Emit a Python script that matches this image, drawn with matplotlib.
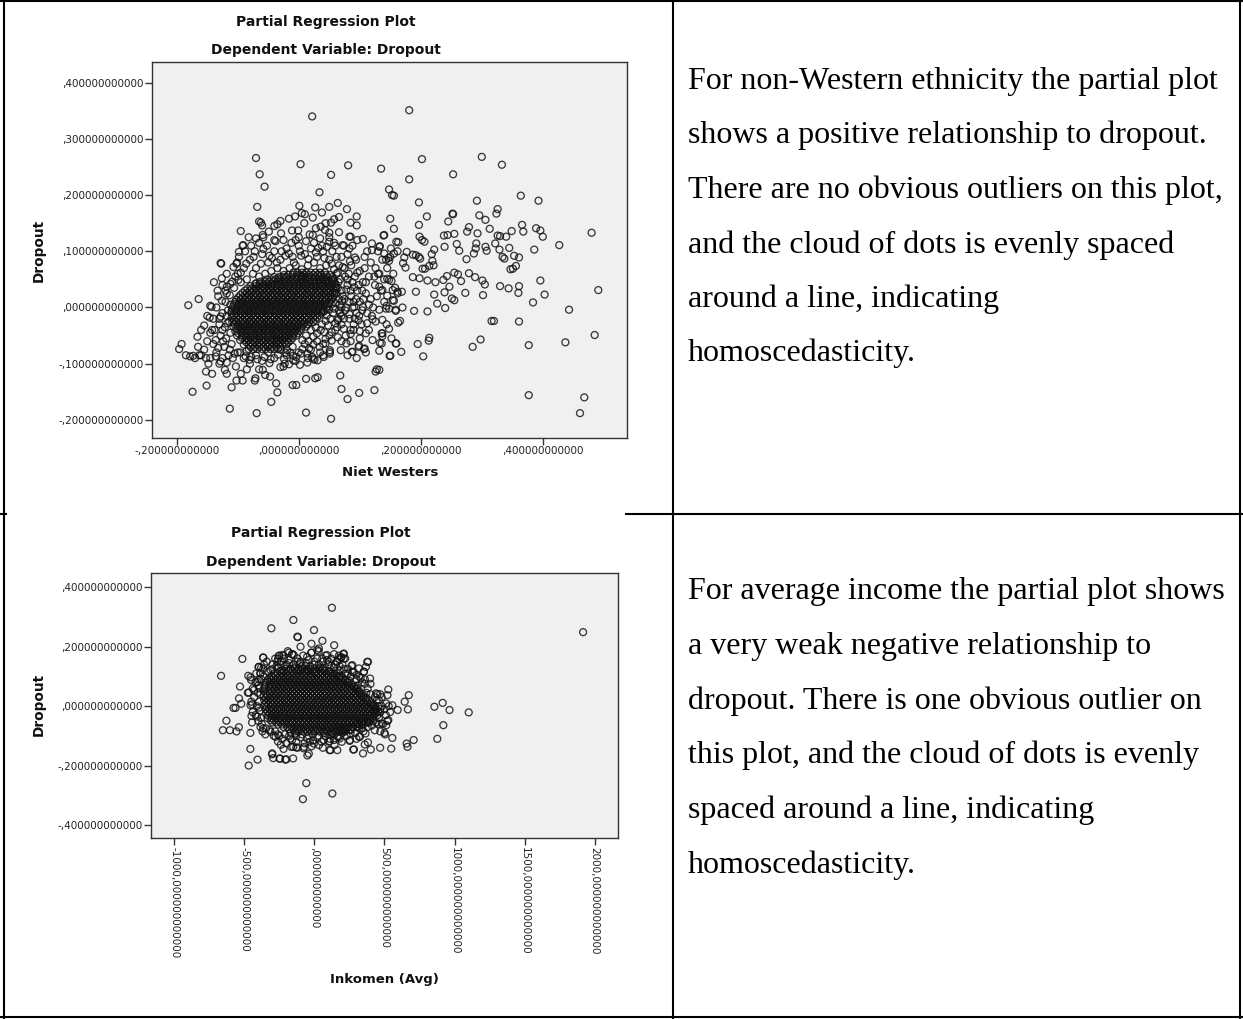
import matplotlib
matplotlib.use("Agg")
import matplotlib.pyplot as plt
from matplotlib.lines import Line2D

W, H, DPI = 1243, 1019, 100

# ---------------- DATA ----------------
# Plot 1: Niet Westers (x) vs Dropout (y), values in thousandths
nw_core_row_y = [62, 58, 54, 50, 46, 42, 38, 34, 30, 26, 22, 18, 14, 10, 6, 2, -2, -6, -10, -14,
                 -18, -22, -26, -30, -34, -38, -42, -46, -50, -54, -58, -62, -66, -70, -74]
nw_core_row_x = [
    [-9, -2, 6, 12, 20, 27, 35, 43],
    [-24, -17, -10, -3, 3, 10, 17, 24, 31, 37, 45, 51],
    [-40, -32, -25, -19, -11, -4, 4, 11, 17, 26, 33, 40, 47, 55],
    [-52, -45, -38, -31, -24, -17, -10, -3, 4, 11, 18, 25, 32, 39, 46, 53, 57],
    [-63, -55, -49, -42, -34, -28, -21, -13, -7, 1, 7, 15, 23, 29, 36, 44, 51, 58],
    [-71, -64, -57, -50, -43, -36, -29, -22, -15, -8, -1, 6, 13, 20, 27, 34, 41, 48, 55, 60],
    [-79, -71, -65, -58, -50, -44, -36, -30, -22, -16, -8, -2, 6, 12, 20, 26, 34, 40, 48, 54, 61],
    [-84, -77, -70, -63, -56, -49, -42, -35, -28, -21, -14, -7, 0, 7, 14, 21, 28, 35, 42, 49, 56, 61],
    [-88, -80, -74, -66, -60, -52, -46, -38, -32, -24, -18, -10, -4, 4, 10, 18, 24, 32, 38, 46, 52, 60],
    [-92, -85, -78, -71, -64, -57, -50, -43, -36, -29, -22, -15, -8, -1, 6, 13, 20, 27, 34, 41, 48, 55, 59],
    [-96, -88, -82, -74, -68, -60, -54, -46, -40, -33, -26, -18, -12, -4, 2, 10, 16, 24, 30, 38, 44, 52, 58],
    [-99, -92, -85, -78, -71, -64, -57, -50, -43, -36, -29, -22, -15, -8, -1, 7, 14, 21, 28, 35, 42, 49, 56],
    [-102, -95, -87, -81, -73, -67, -59, -53, -45, -39, -31, -25, -17, -11, -3, 3, 11, 17, 25, 31, 39, 45, 53],
    [-104, -97, -90, -83, -76, -69, -62, -55, -48, -41, -34, -27, -20, -13, -6, 1, 8, 15, 22, 29, 36, 44, 51],
    [-106, -98, -92, -84, -78, -70, -64, -56, -50, -42, -36, -28, -22, -14, -8, 0, 6, 14, 20, 28, 34, 42, 48],
    [-107, -100, -93, -86, -79, -72, -65, -58, -51, -44, -37, -30, -23, -16, -9, -2, 5, 12, 19, 26, 33, 40, 47],
    [-109, -102, -94, -88, -80, -74, -66, -60, -52, -46, -38, -32, -24, -18, -10, -4, 4, 10, 18, 24, 32, 38, 45],
    [-110, -103, -96, -89, -82, -75, -68, -61, -54, -47, -40, -33, -26, -19, -12, -5, 2, 9, 16, 23, 30, 37, 42],
    [-110, -103, -95, -89, -81, -75, -67, -61, -53, -47, -39, -33, -25, -19, -11, -5, 3, 9, 17, 23, 31, 37],
    [-106, -99, -92, -85, -78, -71, -64, -57, -50, -43, -36, -29, -22, -15, -8, -1, 6, 13, 20, 27, 34],
    [-110, -102, -96, -88, -82, -74, -68, -60, -54, -46, -40, -32, -26, -18, -12, -4, 2, 10, 16, 24, 30],
    [-106, -99, -92, -85, -78, -71, -64, -57, -50, -43, -36, -29, -22, -15, -8, -1, 6, 13, 20, 27],
    [-109, -103, -95, -89, -81, -75, -67, -61, -53, -47, -39, -33, -25, -19, -11, -5, 3, 9, 17, 24],
    [-105, -98, -91, -84, -77, -70, -63, -56, -49, -42, -35, -28, -21, -14, -7, 0, 8, 15],
    [-107, -100, -93, -86, -79, -72, -65, -58, -51, -44, -37, -30, -23, -16, -9, -2, 5, 12],
    [-101, -94, -87, -80, -73, -66, -59, -52, -45, -38, -31, -24, -17, -10, -3, 4],
    [-104, -96, -90, -82, -76, -68, -62, -54, -48, -40, -34, -26, -20, -12, -6, 1],
    [-99, -92, -85, -78, -71, -64, -57, -50, -43, -36, -29, -22, -15, -8, -2],
    [-101, -93, -87, -79, -73, -65, -59, -51, -45, -37, -31, -23, -17, -10, -4],
    [-93, -86, -79, -72, -65, -58, -51, -44, -37, -30, -23, -16, -10],
    [-96, -88, -82, -74, -68, -60, -54, -46, -40, -32, -26, -19, -13],
    [-86, -79, -72, -65, -58, -51, -44, -37, -30, -23, -17],
    [-90, -82, -76, -68, -62, -54, -48, -40, -34, -27, -21],
    [-79, -72, -65, -58, -51, -44, -37, -30],
    [-82, -74, -68, -60, -54, -46, -40, -34],
]
nw_outer = [
    (181, 351), (22, 340), (-70, 266), (3, 255), (81, 253), (135, 247), (202, 264), (300, 268), (333, 254),
    (-64, 237), (53, 236), (253, 237), (181, 228), (-56, 215), (34, 205), (148, 210), (153, 200), (156, 199),
    (364, 199), (292, 190), (393, 190), (197, 187), (-68, 179), (1, 181), (27, 178), (50, 179), (64, 186),
    (79, 175), (38, 169), (5, 168), (10, 166), (23, 160), (-65, 153), (-62, 151), (-95, 136), (-49, 135),
    (-40, 145), (-35, 148), (-30, 154), (-16, 158), (-6, 162), (9, 150), (-11, 137), (-1, 137), (28, 141),
    (36, 144), (44, 150), (53, 151), (58, 157), (66, 161), (85, 151), (95, 162), (95, 146), (105, 122),
    (66, 134), (50, 133), (83, 126), (-29, 132), (-59, 129), (-70, 123), (-60, 146),
    (253, 166), (326, 175), (324, 167), (296, 164), (306, 156), (210, 162), (150, 158), (245, 153), (252, 167),
    (197, 147), (156, 140), (139, 128), (198, 126), (202, 120), (206, 117), (132, 108), (151, 105), (163, 116),
    (279, 143), (276, 135), (293, 132), (313, 140), (326, 128), (330, 127), (340, 126), (349, 136), (366, 147),
    (368, 135), (389, 141), (396, 137), (400, 126), (480, 133), (427, 111), (386, 103), (238, 128), (244, 129),
    (255, 131), (239, 108), (259, 113), (263, 101), (291, 114), (290, 105), (287, 96), (306, 108), (308, 101),
    (322, 114), (329, 103), (334, 90), (337, 87), (345, 106), (353, 92), (356, 74), (361, 89), (347, 68),
    (351, 69), (275, 86), (222, 103), (218, 95), (219, 83), (221, 75), (214, 74), (207, 69), (203, 69),
    (177, 99), (187, 94), (192, 93), (197, 90), (199, 87), (173, 89), (171, 79), (175, 71), (140, 96),
    (143, 85), (147, 88), (156, 96), (162, 100),
    (132, 60), (145, 51), (152, 47), (187, 54), (198, 52), (211, 48), (224, 45), (237, 49), (243, 56),
    (255, 62), (261, 59), (266, 47), (279, 61), (289, 54), (301, 48), (305, 41), (330, 38), (344, 34),
    (361, 38), (360, 26), (396, 48), (403, 23), (384, 9), (443, -4), (491, 31),
    (192, 28), (222, 23), (227, 7), (240, -1), (239, 27), (247, 37), (251, 16), (255, 13), (273, 26),
    (302, 22), (211, -7), (189, -6), (170, 0), (159, -6), (148, -2), (156, 12), (162, 28), (169, 28),
    (154, 31), (145, 21), (137, 31), (132, 37), (143, -2), (137, -22), (144, -30), (163, -27), (166, -24),
    (137, -46), (136, -64), (152, -55), (160, -64), (150, -86), (168, -79), (195, -65), (204, -87), (213, -59),
    (214, -54), (132, -111), (316, -24), (320, -24), (361, -25), (285, -70), (298, -57), (377, -67), (437, -62),
    (485, -49), (377, -156), (468, -160), (461, -188),
]
nw_fringe = [
    (-181, 4), (-164, 15), (-145, 3), (-143, 1), (-196, -74), (-192, -65), (-174, -150), (-151, -139),
    (-152, -114), (-142, -118), (-173, -86), (-163, -85), (-152, -90), (-136, -87), (-128, -96), (-121, -111),
    (-118, -118), (-110, -142), (-102, -130), (-95, -118), (-92, -130), (-113, -180), (-69, -188), (-45, -168),
    (-35, -151), (-37, -135), (-47, -123), (-72, -130), (-71, -126), (-59, -111), (-10, -138), (-4, -138),
    (12, -127), (27, -126), (31, -124), (12, -187), (53, -198), (68, -121), (70, -145), (80, -163), (99, -152),
    (124, -147), (128, -110), (126, -114), (149, -86), (132, -77), (107, -74), (99, -68), (87, -79), (69, -76),
    (51, -79), (40, -85), (26, -93), (22, -88), (14, -98), (2, -102), (-9, -86), (-16, -101), (-21, -81),
    (-48, -99), (-81, -93), (-87, -87), (-103, -105),
    (133, -63), (137, -51), (121, -58), (136, -46), (85, -40), (110, -46), (148, -38), (159, -64), (159, -4),
    (162, 25), (154, 13), (144, 3), (132, -4), (121, -21), (105, 1), (83, -12), (148, 49), (148, 83),
    (140, 129), (160, 117), (133, 109), (120, 114), (85, 126), (72, 111), (50, 117), (35, 123),
    (23, 129), (43, 138), (-5, 120), (-40, 120), (-91, 111), (-98, 99), (-128, 79),
    (-101, 80), (-139, 45), (-126, 52), (-133, 30), (-118, 37), (-109, 46), (-99, 49), (-146, -18), (-155, -32),
    (-166, -52), (-142, -40), (-136, -58), (-125, -40), (-128, -16), (-117, -28),
    (71, 12), (91, 1), (98, -23), (85, -47), (78, -64), (88, -79), (108, -73), (98, -70), (64, -53), (74, -38),
    (64, -23), (54, -59), (44, -64), (51, -76), (51, -82), (41, -88), (31, -94), (24, -91), (17, -73), (4, -82),
    (-9, -94), (-23, -100), (-30, -106), (-19, -76), (-36, -59),
    (91, 36), (-127, 78), (-102, 78), (-92, 110), (92, 89), (120, 102),
]
nw_mid = [
    (-90, 70), (-80, 85), (-70, 70), (-60, 95), (-50, 80), (-40, 100), (-30, 85), (-20, 105), (-10, 90),
    (0, 110), (10, 95), (20, 105), (30, 90), (40, 100), (50, 85), (55, 100), (45, 75), (35, 70), (25, 80),
    (15, 75), (5, 68), (-5, 75), (-15, 70), (-25, 65), (-35, 70), (-45, 65), (-55, 60), (-65, 55), (-75, 60),
    (-85, 50), (-95, 45), (-100, 60), (-88, 100), (-78, 110), (-65, 115), (-52, 110), (-38, 118), (-25, 120),
    (-12, 115), (0, 125), (12, 118), (25, 115), (38, 110), (50, 125), (58, 115), (-82, 125), (-58, 125),
    (18, 130), (-44, 88), (-34, 52), (6, 55), (62, 60), (-70, 43), (-106, 35), (-113, 22), (-118, 60),
    (-107, 72), (-98, 90),
    (-120, 10), (-125, -10), (-130, -30), (-128, -50), (-122, -70), (-115, -85), (-118, 25), (-135, 0),
    (-140, -20), (-145, -45), (-140, -65), (-135, -80), (-150, -60), (-155, -75), (-160, -85), (-165, -70),
    (-170, -90), (-178, -87), (-185, -85), (-148, -100), (-130, -100), (-118, -98), (-108, -90), (-100, -80),
    (-110, -65), (-112, -45), (-114, -25), (-116, -5), (-125, 40), (-132, 20), (-150, -15), (-160, -40),
    (-145, -90), (-125, -90), (-90, -90), (-80, -100), (-70, -85), (-60, -95), (-50, -80), (-40, -90),
    (-30, -75), (-20, -85), (-10, -70), (0, -80), (10, -65), (20, -75), (30, -60), (40, -65), (50, -50),
    (60, -40), (65, -20), (70, 0), (-85, -110), (-65, -110), (-55, -120), (-25, -105), (-5, -95), (15, -90),
    (35, -80),
    (70, 90), (75, 70), (80, 50), (85, 30), (90, 10), (95, -10), (72, 20), (78, 0), (83, -20), (88, 110),
    (94, 85), (100, 65), (105, 45), (110, 25), (115, 5), (120, -15), (125, 40), (130, 60), (118, 80),
    (112, 100), (106, 15), (98, 40), (92, 55), (86, 75), (80, 95), (74, 110), (68, 50), (66, 75), (64, 35),
    (103, -30), (90, -40), (77, -50), (70, -30), (67, 5), (108, 90), (126, 70), (135, 30), (140, 50),
    (145, 70), (150, 90), (128, 20), (122, 0), (140, 10), (155, 60), (158, 35), (115, 55), (96, 120),
    (83, 105), (130, 100), (137, 85), (62, 90), (60, 110), (58, 68), (70, -60), (85, -60), (100, -55),
    (115, -40), (95, -90), (110, -80), (80, -85),
    (65, 45), (70, 30), (75, 15), (68, -10), (74, -20), (80, 40), (86, 20), (88, 0), (92, -20), (82, 60),
    (96, 30), (100, 10), (104, -5), (76, 55),
    (-95, 62), (-86, 78), (-74, 90), (-62, 78), (-48, 92), (-36, 80), (-22, 92), (-8, 80), (4, 92), (16, 86),
    (28, 98), (42, 88), (54, 78), (-58, 104), (-28, 100), (2, 100), (32, 106), (-72, 100), (46, 108),
    (-16, 96),
    (62, 25), (66, 15), (70, -15), (63, -35), (76, -5), (82, 10), (88, 45), (94, 15), (99, -15), (104, 30),
    (110, 45), (112, -10), (118, 15), (124, 55), (108, 70), (96, 62), (84, 82), (72, 72), (64, 62), (66, -5),
    (78, 32), (90, -30), (100, -42), (112, -28), (126, -25),
    (-112, 5), (-118, -15), (-121, -35), (-119, -55), (-113, -75), (-105, -82), (-96, -80), (-86, -78),
    (-78, -88), (-68, -92), (-56, -88), (-46, -92), (-34, -84), (-24, -92), (-14, -80), (-4, -88), (6, -74),
    (14, -82), (24, -66), (34, -70), (44, -56), (54, -44), (60, -28), (-124, -60), (-132, -72), (-138, -40),
    (-130, -20), (-126, 12), (-120, 30), (-112, 42), (-104, 55),
    (40, -8), (46, -14), (50, -4), (52, -20), (56, -10), (44, -24), (38, -30), (48, -32), (58, -2), (54, 6),
    (60, 8), (36, -40), (42, -44), (30, -46), (24, -52), (20, -40), (28, -36), (12, -50), (6, -58), (16, -60),
]

# Plot 2: Inkomen (Avg) (x, raw) vs Dropout (y, thousandths)
inc_core_row_y = [125, 118, 110, 102, 95, 88, 80, 72, 65, 58, 50, 42, 35, 28, 20, 12, 5, -2, -10, -18,
                  -25, -32, -40, -48, -55, -62, -70, -78, -85]
inc_core_row_x = [
    [-201, -172, -140, -113, -84, -53, -26, 5, 33, 60],
    [-245, -216, -186, -158, -128, -100, -70, -42, -12, 16, 46, 74, 104, 110],
    [-289, -262, -231, -204, -173, -146, -115, -88, -57, -30, 1, 28, 59, 86, 117, 144, 162],
    [-305, -277, -247, -219, -189, -161, -131, -103, -73, -45, -15, 13, 43, 71, 101, 129, 159, 180],
    [-321, -292, -264, -233, -206, -175, -148, -117, -90, -59, -32, -1, 26, 57, 84, 115, 142, 173, 200],
    [-333, -305, -275, -247, -217, -189, -159, -131, -101, -73, -43, -15, 15, 43, 73, 101, 131, 159, 189, 217, 222],
    [-344, -317, -286, -259, -228, -201, -170, -143, -112, -85, -54, -27, 4, 31, 62, 89, 120, 147, 178, 205, 236, 243],
    [-350, -312, -284, -254, -226, -196, -168, -138, -110, -80, -52, -22, 6, 36, 64, 94, 122, 152, 180, 210, 238, 268],
    [-356, -327, -299, -268, -241, -210, -183, -152, -125, -94, -67, -36, -9, 22, 49, 80, 107, 138, 165, 196, 223, 254, 281, 292],
    [-358, -316, -288, -258, -230, -200, -172, -142, -114, -84, -56, -26, 2, 32, 60, 90, 118, 148, 176, 206, 234, 264, 292, 306],
    [-360, -331, -304, -273, -246, -215, -188, -157, -130, -99, -72, -41, -14, 17, 44, 75, 102, 133, 160, 191, 218, 249, 276, 307, 320],
    [-346, -318, -288, -260, -230, -202, -172, -144, -114, -86, -56, -28, 2, 30, 60, 88, 118, 146, 176, 204, 234, 262, 292, 320, 335],
    [-361, -334, -303, -276, -245, -218, -187, -160, -129, -102, -71, -44, -13, 14, 45, 72, 103, 130, 161, 188, 219, 246, 277, 304, 335, 350],
    [-346, -316, -288, -258, -230, -200, -172, -142, -114, -84, -56, -26, 2, 32, 60, 90, 118, 148, 176, 206, 234, 264, 292, 322, 350, 370],
    [-359, -330, -302, -271, -244, -213, -186, -155, -128, -97, -70, -39, -12, 19, 46, 77, 104, 135, 162, 193, 220, 251, 278, 309, 336, 367, 389],
    [-344, -316, -286, -258, -228, -200, -170, -142, -112, -84, -54, -26, 4, 32, 62, 90, 120, 148, 178, 206, 236, 264, 294, 322, 352, 380, 405],
    [-355, -328, -297, -270, -239, -212, -181, -154, -123, -96, -65, -38, -7, 20, 51, 78, 109, 136, 167, 194, 225, 252, 283, 310, 341, 368, 399, 419],
    [-340, -308, -280, -250, -222, -192, -164, -134, -106, -76, -48, -18, 10, 40, 68, 98, 126, 156, 184, 214, 242, 272, 300, 330, 358, 388, 416, 430],
    [-350, -321, -293, -262, -235, -204, -177, -146, -119, -88, -61, -30, -3, 28, 55, 86, 113, 144, 171, 202, 229, 260, 287, 318, 345, 376, 403, 434, 441],
    [-334, -306, -276, -248, -218, -190, -160, -132, -102, -74, -44, -16, 14, 42, 72, 100, 130, 158, 188, 216, 246, 274, 304, 332, 362, 390, 420, 440],
    [-345, -318, -287, -260, -229, -202, -171, -144, -113, -86, -55, -28, 3, 30, 61, 88, 119, 146, 177, 204, 235, 262, 293, 320, 351, 378, 409, 436],
    [-330, -300, -272, -242, -214, -184, -156, -126, -98, -68, -40, -10, 18, 48, 76, 106, 134, 164, 192, 222, 250, 280, 308, 338, 366, 396, 424],
    [-335, -306, -278, -247, -220, -189, -162, -131, -104, -73, -46, -15, 12, 43, 70, 101, 128, 159, 186, 217, 244, 275, 302, 333, 360, 391, 418],
    [-312, -288, -258, -230, -200, -172, -142, -114, -84, -56, -26, 2, 32, 60, 90, 118, 148, 176, 206, 234, 264, 292, 322, 350, 380, 400],
    [-300, -273, -242, -215, -184, -157, -126, -99, -68, -41, -10, 17, 48, 75, 106, 133, 164, 191, 222, 249, 280, 307, 338, 365, 380],
    [-258, -230, -200, -172, -142, -114, -84, -56, -26, 2, 32, 60, 90, 118, 148, 176, 206, 234, 264, 292, 322, 340],
    [-221, -192, -164, -133, -106, -75, -48, -17, 10, 41, 68, 99, 126, 157, 184, 215, 242, 273, 300],
    [-178, -150, -120, -92, -62, -34, -4, 24, 54, 82, 112, 140, 170, 198, 228, 258],
    [-140, -113, -82, -55, -24, 3, 34, 61, 92, 119, 150, 177, 208, 221],
]
inc_outer = [
    (125, 331), (1917, 249), (-150, 290), (-307, 262), (-3, 256), (-121, 234), (-119, 232), (57, 220),
    (-99, 200), (-21, 210), (32, 194), (141, 205), (-514, 159), (-366, 164), (-666, 102), (-472, 102),
    (-452, 88), (-399, 132), (-386, 111), (-531, 66), (-538, 26), (-522, 8), (-577, -6), (-563, -6),
    (-475, 45), (-456, 3), (-449, -33), (-628, -49), (-653, -81), (-603, -81), (-556, -85), (-539, -71),
    (-457, -90), (-457, -144), (-406, -180), (-469, -200), (-302, -162), (-294, -175), (-248, -177),
    (-208, -180), (-200, -179), (-152, -176), (-220, -144), (-260, -119), (-165, -137), (-130, -139),
    (-78, -142), (-50, -166), (-40, -160), (-58, -259), (-82, -313), (128, -294), (108, -148), (163, -148),
    (143, -131), (108, -118), (180, -109), (253, -114), (282, -146), (318, -103), (347, -159), (359, -129),
    (382, -122), (402, -146), (431, -81), (469, -140), (504, -95), (548, -143), (556, -107), (513, -64),
    (527, -47), (521, 37), (527, 56), (513, 9), (556, 3), (594, -13), (644, 15), (673, 37), (667, -11),
    (658, -126), (664, -137), (708, -114), (856, -2), (915, 11), (964, -13), (1101, -21), (920, -64),
    (877, -110), (382, 149), (367, 132), (353, 116), (397, 93), (265, 135), (207, 175), (178, 157),
    (220, 160), (190, 165), (90, 172), (-230, 172), (-259, 160), (-157, 175), (440, 43), (469, 40),
    (455, -20), (480, -58), (430, -10), (-33, -120), (-4, -126), (32, -131), (67, -114), (103, -120),
    (139, -114), (115, -148), (258, -92), (251, -117), (277, -146), (325, -103), (365, -92), (341, -75),
    (305, -70), (127, -92), (163, -101), (210, -81), (175, -70), (-313, -86), (-277, -103), (-170, -109),
    (-134, -92), (-75, -137), (-301, -159), (-246, -176), (-151, -137),
    (-254, 169), (-218, 160), (-182, 180), (-147, 172), (-99, 149), (-52, 166), (-23, 180), (20, 189),
    (56, 160), (103, 149), (162, 149), (210, 177), (191, 163), (-396, 132), (-385, 110), (-365, 163),
    (-456, 97), (-468, 46), (-444, 6), (-408, 82), (-432, 54), (-313, 121), (-266, 149), (270, 138),
    (317, 127), (353, 116), (377, 149),
]
inc_mid = [
    (-440, 60), (-420, 80), (-430, 30), (-410, 0), (-420, -30), (-400, -50), (-415, 110), (-395, 90),
    (-405, 45), (-395, 15), (-390, -15), (-385, -70), (-370, -85), (-360, 100), (-365, 125), (-380, 130),
    (-350, -95), (-440, -20), (-450, 15), (-445, -55), (-360, 140), (-340, 150), (-330, 115), (-345, -75),
    (-300, 140), (-280, 160), (-260, 130), (-240, 150), (-220, 170), (-200, 140), (-180, 155), (-160, 175),
    (-140, 130), (-120, 160), (-100, 145), (-80, 170), (-60, 135), (-40, 155), (-20, 180), (0, 140),
    (20, 160), (40, 130), (60, 150), (80, 170), (100, 140), (120, 160), (140, 130), (160, 150), (180, 120),
    (200, 140), (220, 110), (240, 125), (260, 100), (280, 115), (300, 90), (320, 100), (340, 80), (360, 90),
    (380, 60), (400, 75), (-230, 120), (-170, 125), (-110, 120), (-50, 120), (10, 115), (70, 120), (130, 110),
    (190, 100), (250, 85), (310, 70), (370, 45), (140, 175), (175, 170), (210, 160), (-250, 170), (-190, 185),
    (30, 185),
    (-290, -100), (-260, -95), (-230, -110), (-200, -125), (-180, -100), (-160, -115), (-130, -120),
    (-100, -105), (-70, -125), (-40, -100), (-10, -115), (20, -105), (50, -120), (80, -100), (110, -110),
    (140, -95), (170, -105), (200, -90), (230, -100), (260, -80), (290, -90), (320, -75), (350, -85),
    (380, -70), (410, -65), (440, -55), (460, -40), (470, -20), (480, 0), (460, 20), (-240, -130),
    (-120, -140), (-20, -135), (60, -140), (195, -120), (300, -110),
    (450, 40), (480, 30), (500, -10), (510, -30), (520, -50), (490, -60), (530, 0), (540, -20), (470, -85),
    (500, -90),
    (-300, 125), (-270, 135), (-240, 140), (-210, 135), (-180, 145), (-150, 140), (-120, 150), (-90, 135),
    (-60, 145), (-30, 135), (0, 150), (30, 140), (60, 130), (90, 155), (120, 135), (150, 140), (180, 135),
    (210, 125), (240, 110), (270, 115), (300, 105), (330, 95), (360, 75),
    (-380, 90), (-390, 60), (-385, 40), (-395, -5), (-380, -40), (-375, -60), (-365, -75), (-400, 70),
    (-410, -35),
    (-320, -80), (-280, -85), (-250, -100), (-210, -95), (-170, -90), (-130, -100), (-90, -95), (-50, -110),
    (-10, -95), (30, -100), (70, -90), (110, -95), (150, -85), (190, -80), (230, -75), (270, -70), (310, -60),
    (350, -60), (390, -55), (420, -50),
    (450, -30), (455, 0), (445, 20), (430, 30), (400, 40), (470, -10), (460, -60),
]

# Axis ticks
nw_xticks = [-0.2, 0.0, 0.2, 0.4]
nw_xticklabels = ["-,200000000000", ",000000000000", ",200000000000", ",400000000000"]
nw_yticks = [0.4, 0.3, 0.2, 0.1, 0.0, -0.1, -0.2]
nw_yticklabels = [",400000000000", ",300000000000", ",200000000000", ",100000000000",
                  ",000000000000", "-,100000000000", "-,200000000000"]
inc_xticks = [-1000, -500, 0, 500, 1000, 1500, 2000]
inc_xticklabels = ["-1000,000000000000", "-500,000000000000", ",000000000000", "500,000000000000",
                   "1000,000000000000", "1500,000000000000", "2000,000000000000"]
inc_yticks = [0.4, 0.2, 0.0, -0.2, -0.4]
inc_yticklabels = [",400000000000", ",200000000000", ",000000000000", "-,200000000000", "-,400000000000"]

title_main = "Partial Regression Plot"
title_sub = "Dependent Variable: Dropout"
ylabel = "Dropout"
xlabel_1 = "Niet Westers"
xlabel_2 = "Inkomen (Avg)"

cell1_lines = [
    "For non-Western ethnicity the partial plot",
    "shows a positive relationship to dropout.",
    "There are no obvious outliers on this plot,",
    "and the cloud of dots is evenly spaced",
    "around a line, indicating",
    "homoscedasticity.",
]
cell2_lines = [
    "For average income the partial plot shows",
    "a very weak negative relationship to",
    "dropout. There is one obvious outlier on",
    "this plot, and the cloud of dots is evenly",
    "spaced around a line, indicating",
    "homoscedasticity.",
]

# ---------------- FIGURE ----------------
fig = plt.figure(figsize=(W / DPI, H / DPI), dpi=DPI)
fig.patch.set_facecolor("white")


def px_axes(l, t, r, b):
    return fig.add_axes([l / W, 1 - b / H, (r - l) / W, (b - t) / H])


def ftext(x, y, s, **kw):
    return fig.text(x / W, 1 - y / H, s, **kw)


def expand_rows(rows_y, rows_x):
    xs, ys = [], []
    for yv, row in zip(rows_y, rows_x):
        xs.extend(row)
        ys.extend([yv] * len(row))
    return xs, ys


def style_axes(ax):
    ax.set_facecolor("#f0f0f0")
    for sp in ax.spines.values():
        sp.set_color("#333333")
        sp.set_linewidth(1.0)
    ax.tick_params(direction="out", length=5, width=1.0, color="#333333",
                   labelsize=7.5, pad=1, labelcolor="#222222")


def draw_points(ax, xs, ys):
    ax.scatter(xs, ys, s=25, facecolors="none", edgecolors="#111111",
               linewidths=0.95, alpha=0.82, zorder=3)


# ---- Plot 1 ----
ax1 = px_axes(152, 62.3, 627.3, 437.7)
style_axes(ax1)
ax1.set_xlim(-0.2405, 0.5385)
ax1.set_ylim(-0.2317, 0.4363)
cx, cy = expand_rows(nw_core_row_y, nw_core_row_x)
all1 = list(zip(cx, cy)) + nw_mid + nw_fringe + nw_outer
draw_points(ax1, [p[0] / 1000 for p in all1], [p[1] / 1000 for p in all1])
ax1.set_xticks(nw_xticks)
ax1.set_xticklabels(nw_xticklabels)
ax1.set_yticks(nw_yticks)
ax1.set_yticklabels(nw_yticklabels)

# ---- Plot 2 ----
ax2 = px_axes(151, 573.3, 618.4, 838.3)
style_axes(ax2)
ax2.set_xlim(-1166, 2169)
ax2.set_ylim(-0.4448, 0.4471)
cx2, cy2 = expand_rows(inc_core_row_y, inc_core_row_x)
all2 = list(zip(cx2, cy2)) + inc_mid + inc_outer
draw_points(ax2, [p[0] for p in all2], [p[1] / 1000 for p in all2])
ax2.set_xticks(inc_xticks)
ax2.set_xticklabels(inc_xticklabels, rotation=-90, va="top", ha="center")
ax2.set_yticks(inc_yticks)
ax2.set_yticklabels(inc_yticklabels)

# ---- titles / labels ----
bold = dict(fontfamily="DejaVu Sans", fontweight="bold", color="#111111")
for (cxp, y1, y2) in [(326, 21.7, 50.0), (321, 533.3, 561.7)]:
    ftext(cxp, y1, title_main, ha="center", va="center", fontsize=10, **bold)
    ftext(cxp, y2, title_sub, ha="center", va="center", fontsize=10, **bold)
ftext(38.8, 250, ylabel, rotation=90, ha="center", va="center", fontsize=9.8, **bold)
ftext(38.8, 704, ylabel, rotation=90, ha="center", va="center", fontsize=9.8, **bold)
ftext(390, 473, xlabel_1, ha="center", va="center", fontsize=9.5, **bold)
ftext(384, 979, xlabel_2, ha="center", va="center", fontsize=9.5, **bold)

# ---- right-hand text cells ----
serif = dict(fontfamily="Liberation Serif", color="black")
renderer = fig.canvas.get_renderer()
probe = ftext(688, 90, cell1_lines[0], ha="left", va="baseline", fontsize=20, **serif)
wpx = probe.get_window_extent(renderer).width
fs = 20 * 530.0 / wpx
probe.remove()
for i, line in enumerate(cell1_lines):
    ftext(688, 89 + 54.5 * i, line, ha="left", va="baseline", fontsize=fs, **serif)
for i, line in enumerate(cell2_lines):
    ftext(688, 599 + 54.8 * i, line, ha="left", va="baseline", fontsize=fs, **serif)

# ---- table rules ----
def rule(x0, y0, x1, y1):
    fig.add_artist(Line2D([x0 / W, x1 / W], [1 - y0 / H, 1 - y1 / H], color="black",
                          lw=1.5, transform=fig.transFigure, solid_capstyle="butt"))

rule(4, 0, 4, H)
rule(673, 0, 673, H)
rule(1240, 0, 1240, H)
rule(0, 1.0, 1243, 1.0)
rule(0, 1017, 1243, 1017)
rule(0, 513.5, 7, 513.5)
rule(625, 513.5, 1243, 513.5)

fig.savefig("out.png", dpi=DPI, facecolor="white")
